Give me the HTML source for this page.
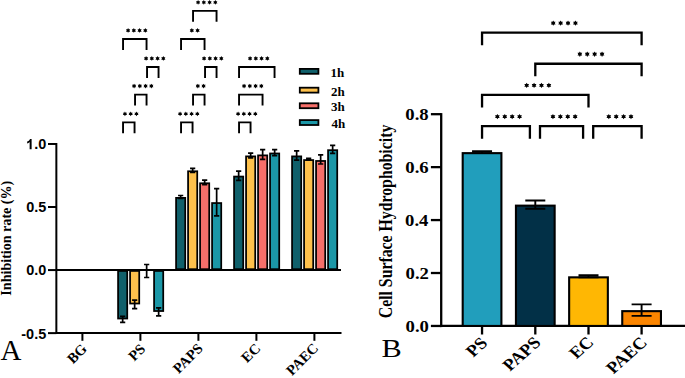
<!DOCTYPE html>
<html><head><meta charset="utf-8"><style>
html,body{margin:0;padding:0;background:#fff;}
body{width:685px;height:378px;overflow:hidden;}
svg{display:block;}
</style></head><body>
<svg width="685" height="378" viewBox="0 0 685 378">
<rect width="685" height="378" fill="#fff"/>
<g stroke="#000" stroke-width="2" fill="none">
<line x1="56.35" y1="143" x2="56.35" y2="334"/>
<line x1="48" y1="143.97" x2="56.35" y2="143.97"/>
<line x1="48" y1="207.02" x2="56.35" y2="207.02"/>
<line x1="48" y1="270.07" x2="56.35" y2="270.07"/>
<line x1="48" y1="333.12" x2="56.35" y2="333.12"/>
<line x1="56.35" y1="270.07" x2="341" y2="270.07"/>
<line x1="56.35" y1="332.9" x2="341.5" y2="332.9"/>
<line x1="82.4" y1="332.9" x2="82.4" y2="340.8"/>
<line x1="140.4" y1="332.9" x2="140.4" y2="340.8"/>
<line x1="198.4" y1="332.9" x2="198.4" y2="340.8"/>
<line x1="256.4" y1="332.9" x2="256.4" y2="340.8"/>
<line x1="314.4" y1="332.9" x2="314.4" y2="340.8"/>
</g>
<g transform="matrix(1.0350 0 0 1.0800 -317.644 -54.755)"><g transform="translate(342 189)"><path d="M759 0H478V1010C380 918 262 850 129 807V1050C200 1073 276 1117 358 1181C441 1245 497 1321 528 1409H759Z" transform="translate(-9.731 0) scale(0.006836 -0.006836)" fill="#000"/><text x="-1.945" font-family="&quot;Liberation Sans&quot;, sans-serif" font-weight="bold" font-size="14" fill="#000">.0</text></g></g>
<g transform="matrix(1.0350 0 0 1.0800 -317.644 8.295)"><text transform="translate(342 189) rotate(0)" font-family="&quot;Liberation Sans&quot;, sans-serif" font-weight="bold" font-size="14" text-anchor="middle" fill="#000">0.5</text></g>
<g transform="matrix(1.0350 0 0 1.0800 -317.644 71.365)"><text transform="translate(342 189) rotate(0)" font-family="&quot;Liberation Sans&quot;, sans-serif" font-weight="bold" font-size="14" text-anchor="middle" fill="#000">0.0</text></g>
<g transform="matrix(1.0350 0 0 1.0800 -320.231 134.395)"><text transform="translate(342 189) rotate(0)" font-family="&quot;Liberation Sans&quot;, sans-serif" font-weight="bold" font-size="14" text-anchor="middle" fill="#000">-0.5</text></g>
<rect x="118.08" y="270.94" width="9.15" height="47.58" fill="#10606b" stroke="#000" stroke-width="1.75"/>
<path d="M122.65 316.40V322.40M120.05 316.40H125.25M120.05 322.40H125.25" stroke="#000" stroke-width="1.7" fill="none"/>
<rect x="130.08" y="270.94" width="9.15" height="32.58" fill="#fec14c" stroke="#000" stroke-width="1.75"/>
<path d="M134.65 300.20V308.60M132.05 300.20H137.25M132.05 308.60H137.25" stroke="#000" stroke-width="1.7" fill="none"/>
<path d="M146.65 264.50V277.50M144.05 264.50H149.25M144.05 277.50H149.25" stroke="#000" stroke-width="1.7" fill="none"/>
<rect x="154.08" y="270.94" width="9.15" height="40.08" fill="#1b97a7" stroke="#000" stroke-width="1.75"/>
<path d="M158.65 307.90V315.90M156.05 307.90H161.25M156.05 315.90H161.25" stroke="#000" stroke-width="1.7" fill="none"/>
<rect x="176.08" y="197.88" width="9.15" height="71.32" fill="#10606b" stroke="#000" stroke-width="1.75"/>
<path d="M180.65 195.50V198.50M178.05 195.50H183.25M178.05 198.50H183.25" stroke="#000" stroke-width="1.7" fill="none"/>
<rect x="188.08" y="171.28" width="9.15" height="97.92" fill="#fec14c" stroke="#000" stroke-width="1.75"/>
<path d="M192.65 168.40V172.40M190.05 168.40H195.25M190.05 172.40H195.25" stroke="#000" stroke-width="1.7" fill="none"/>
<rect x="200.08" y="183.28" width="9.15" height="85.92" fill="#f66f6a" stroke="#000" stroke-width="1.75"/>
<path d="M204.65 180.10V184.70M202.05 180.10H207.25M202.05 184.70H207.25" stroke="#000" stroke-width="1.7" fill="none"/>
<rect x="212.08" y="203.07" width="9.15" height="66.12" fill="#1b97a7" stroke="#000" stroke-width="1.75"/>
<path d="M216.65 188.60V215.80M214.05 188.60H219.25M214.05 215.80H219.25" stroke="#000" stroke-width="1.7" fill="none"/>
<rect x="234.07" y="176.57" width="9.15" height="92.62" fill="#10606b" stroke="#000" stroke-width="1.75"/>
<path d="M238.65 171.10V180.30M236.05 171.10H241.25M236.05 180.30H241.25" stroke="#000" stroke-width="1.7" fill="none"/>
<rect x="246.07" y="156.38" width="9.15" height="112.82" fill="#fec14c" stroke="#000" stroke-width="1.75"/>
<path d="M250.65 153.20V157.80M248.05 153.20H253.25M248.05 157.80H253.25" stroke="#000" stroke-width="1.7" fill="none"/>
<rect x="258.07" y="155.38" width="9.15" height="113.82" fill="#f66f6a" stroke="#000" stroke-width="1.75"/>
<path d="M262.65 149.70V159.30M260.05 149.70H265.25M260.05 159.30H265.25" stroke="#000" stroke-width="1.7" fill="none"/>
<rect x="270.07" y="153.47" width="9.15" height="115.72" fill="#1b97a7" stroke="#000" stroke-width="1.75"/>
<path d="M274.65 149.60V155.60M272.05 149.60H277.25M272.05 155.60H277.25" stroke="#000" stroke-width="1.7" fill="none"/>
<rect x="292.07" y="156.38" width="9.15" height="112.82" fill="#10606b" stroke="#000" stroke-width="1.75"/>
<path d="M296.65 150.90V160.10M294.05 150.90H299.25M294.05 160.10H299.25" stroke="#000" stroke-width="1.7" fill="none"/>
<rect x="304.07" y="160.07" width="9.15" height="109.12" fill="#fec14c" stroke="#000" stroke-width="1.75"/>
<path d="M308.65 158.30V160.10M306.05 158.30H311.25M306.05 160.10H311.25" stroke="#000" stroke-width="1.7" fill="none"/>
<rect x="316.07" y="160.97" width="9.15" height="108.22" fill="#f66f6a" stroke="#000" stroke-width="1.75"/>
<path d="M320.65 154.80V164.00M318.05 154.80H323.25M318.05 164.00H323.25" stroke="#000" stroke-width="1.7" fill="none"/>
<rect x="328.07" y="150.18" width="9.15" height="119.02" fill="#1b97a7" stroke="#000" stroke-width="1.75"/>
<path d="M332.65 145.30V153.30M330.05 145.30H335.25M330.05 153.30H335.25" stroke="#000" stroke-width="1.7" fill="none"/>
<path d="M123.05 49.90V39.00H146.55V49.90" stroke="#000" stroke-width="1.9" fill="none"/>
<path d="M128.08 28.05L128.78 29.24L130.15 29.25L129.48 30.45L130.15 31.65L128.78 31.66L128.08 32.85L127.38 31.66L126.00 31.65L126.68 30.45L126.00 29.25L127.38 29.24ZM133.83 28.05L134.53 29.24L135.90 29.25L135.23 30.45L135.90 31.65L134.53 31.66L133.83 32.85L133.13 31.66L131.75 31.65L132.43 30.45L131.75 29.25L133.13 29.24ZM139.58 28.05L140.28 29.24L141.65 29.25L140.98 30.45L141.65 31.65L140.28 31.66L139.58 32.85L138.88 31.66L137.50 31.65L138.18 30.45L137.50 29.25L138.88 29.24ZM145.33 28.05L146.03 29.24L147.40 29.25L146.73 30.45L147.40 31.65L146.03 31.66L145.33 32.85L144.63 31.66L143.25 31.65L143.93 30.45L143.25 29.25L144.63 29.24Z" fill="#000"/>
<path d="M147.05 77.90V67.00H158.55V77.90" stroke="#000" stroke-width="1.9" fill="none"/>
<path d="M146.08 56.05L146.78 57.24L148.15 57.25L147.48 58.45L148.15 59.65L146.78 59.66L146.08 60.85L145.38 59.66L144.00 59.65L144.68 58.45L144.00 57.25L145.38 57.24ZM151.83 56.05L152.53 57.24L153.90 57.25L153.23 58.45L153.90 59.65L152.53 59.66L151.83 60.85L151.13 59.66L149.75 59.65L150.43 58.45L149.75 57.25L151.13 57.24ZM157.58 56.05L158.28 57.24L159.65 57.25L158.98 58.45L159.65 59.65L158.28 59.66L157.58 60.85L156.88 59.66L155.50 59.65L156.18 58.45L155.50 57.25L156.88 57.24ZM163.33 56.05L164.03 57.24L165.40 57.25L164.73 58.45L165.40 59.65L164.03 59.66L163.33 60.85L162.63 59.66L161.25 59.65L161.93 58.45L161.25 57.25L162.63 57.24Z" fill="#000"/>
<path d="M135.05 105.50V94.60H146.55V105.50" stroke="#000" stroke-width="1.9" fill="none"/>
<path d="M134.08 83.65L134.78 84.84L136.15 84.85L135.48 86.05L136.15 87.25L134.78 87.26L134.08 88.45L133.38 87.26L132.00 87.25L132.68 86.05L132.00 84.85L133.38 84.84ZM139.83 83.65L140.53 84.84L141.90 84.85L141.23 86.05L141.90 87.25L140.53 87.26L139.83 88.45L139.13 87.26L137.75 87.25L138.43 86.05L137.75 84.85L139.13 84.84ZM145.58 83.65L146.28 84.84L147.65 84.85L146.98 86.05L147.65 87.25L146.28 87.26L145.58 88.45L144.88 87.26L143.50 87.25L144.18 86.05L143.50 84.85L144.88 84.84ZM151.33 83.65L152.03 84.84L153.40 84.85L152.73 86.05L153.40 87.25L152.03 87.26L151.33 88.45L150.63 87.26L149.25 87.25L149.93 86.05L149.25 84.85L150.63 84.84Z" fill="#000"/>
<path d="M123.05 133.30V122.40H134.55V133.30" stroke="#000" stroke-width="1.9" fill="none"/>
<path d="M124.95 111.45L125.65 112.64L127.03 112.65L126.35 113.85L127.03 115.05L125.65 115.06L124.95 116.25L124.25 115.06L122.87 115.05L123.55 113.85L122.87 112.65L124.25 112.64ZM130.70 111.45L131.40 112.64L132.78 112.65L132.10 113.85L132.78 115.05L131.40 115.06L130.70 116.25L130.00 115.06L128.62 115.05L129.30 113.85L128.62 112.65L130.00 112.64ZM136.45 111.45L137.15 112.64L138.53 112.65L137.85 113.85L138.53 115.05L137.15 115.06L136.45 116.25L135.75 115.06L134.37 115.05L135.05 113.85L134.37 112.65L135.75 112.64Z" fill="#000"/>
<path d="M193.05 21.80V10.90H216.55V21.80" stroke="#000" stroke-width="1.9" fill="none"/>
<path d="M198.08 -0.05L198.78 1.14L200.15 1.15L199.48 2.35L200.15 3.55L198.78 3.56L198.08 4.75L197.38 3.56L196.00 3.55L196.68 2.35L196.00 1.15L197.38 1.14ZM203.83 -0.05L204.53 1.14L205.90 1.15L205.23 2.35L205.90 3.55L204.53 3.56L203.83 4.75L203.13 3.56L201.75 3.55L202.43 2.35L201.75 1.15L203.13 1.14ZM209.58 -0.05L210.28 1.14L211.65 1.15L210.98 2.35L211.65 3.55L210.28 3.56L209.58 4.75L208.88 3.56L207.50 3.55L208.18 2.35L207.50 1.15L208.88 1.14ZM215.33 -0.05L216.03 1.14L217.40 1.15L216.73 2.35L217.40 3.55L216.03 3.56L215.33 4.75L214.63 3.56L213.25 3.55L213.93 2.35L213.25 1.15L214.63 1.14Z" fill="#000"/>
<path d="M181.05 49.90V39.00H204.55V49.90" stroke="#000" stroke-width="1.9" fill="none"/>
<path d="M191.83 28.05L192.53 29.24L193.90 29.25L193.23 30.45L193.90 31.65L192.53 31.66L191.83 32.85L191.13 31.66L189.75 31.65L190.43 30.45L189.75 29.25L191.13 29.24ZM197.58 28.05L198.28 29.24L199.65 29.25L198.98 30.45L199.65 31.65L198.28 31.66L197.58 32.85L196.88 31.66L195.50 31.65L196.18 30.45L195.50 29.25L196.88 29.24Z" fill="#000"/>
<path d="M205.05 77.90V67.00H216.55V77.90" stroke="#000" stroke-width="1.9" fill="none"/>
<path d="M204.08 56.05L204.78 57.24L206.15 57.25L205.48 58.45L206.15 59.65L204.78 59.66L204.08 60.85L203.38 59.66L202.00 59.65L202.68 58.45L202.00 57.25L203.38 57.24ZM209.83 56.05L210.53 57.24L211.90 57.25L211.23 58.45L211.90 59.65L210.53 59.66L209.83 60.85L209.13 59.66L207.75 59.65L208.43 58.45L207.75 57.25L209.13 57.24ZM215.58 56.05L216.28 57.24L217.65 57.25L216.98 58.45L217.65 59.65L216.28 59.66L215.58 60.85L214.88 59.66L213.50 59.65L214.18 58.45L213.50 57.25L214.88 57.24ZM221.33 56.05L222.03 57.24L223.40 57.25L222.73 58.45L223.40 59.65L222.03 59.66L221.33 60.85L220.63 59.66L219.25 59.65L219.93 58.45L219.25 57.25L220.63 57.24Z" fill="#000"/>
<path d="M193.05 105.50V94.60H204.55V105.50" stroke="#000" stroke-width="1.9" fill="none"/>
<path d="M197.83 83.65L198.53 84.84L199.90 84.85L199.23 86.05L199.90 87.25L198.53 87.26L197.83 88.45L197.13 87.26L195.75 87.25L196.43 86.05L195.75 84.85L197.13 84.84ZM203.58 83.65L204.28 84.84L205.65 84.85L204.98 86.05L205.65 87.25L204.28 87.26L203.58 88.45L202.88 87.26L201.50 87.25L202.18 86.05L201.50 84.85L202.88 84.84Z" fill="#000"/>
<path d="M181.05 133.30V122.40H192.55V133.30" stroke="#000" stroke-width="1.9" fill="none"/>
<path d="M180.08 111.45L180.78 112.64L182.15 112.65L181.48 113.85L182.15 115.05L180.78 115.06L180.08 116.25L179.38 115.06L178.00 115.05L178.68 113.85L178.00 112.65L179.38 112.64ZM185.83 111.45L186.53 112.64L187.90 112.65L187.23 113.85L187.90 115.05L186.53 115.06L185.83 116.25L185.13 115.06L183.75 115.05L184.43 113.85L183.75 112.65L185.13 112.64ZM191.58 111.45L192.28 112.64L193.65 112.65L192.98 113.85L193.65 115.05L192.28 115.06L191.58 116.25L190.88 115.06L189.50 115.05L190.18 113.85L189.50 112.65L190.88 112.64ZM197.33 111.45L198.03 112.64L199.40 112.65L198.73 113.85L199.40 115.05L198.03 115.06L197.33 116.25L196.63 115.06L195.25 115.05L195.93 113.85L195.25 112.65L196.63 112.64Z" fill="#000"/>
<path d="M239.05 77.90V67.00H274.55V77.90" stroke="#000" stroke-width="1.9" fill="none"/>
<path d="M250.07 56.05L250.77 57.24L252.15 57.25L251.47 58.45L252.15 59.65L250.77 59.66L250.07 60.85L249.37 59.66L248.00 59.65L248.67 58.45L248.00 57.25L249.37 57.24ZM255.82 56.05L256.52 57.24L257.90 57.25L257.22 58.45L257.90 59.65L256.52 59.66L255.82 60.85L255.12 59.66L253.75 59.65L254.42 58.45L253.75 57.25L255.12 57.24ZM261.57 56.05L262.27 57.24L263.65 57.25L262.97 58.45L263.65 59.65L262.27 59.66L261.57 60.85L260.87 59.66L259.50 59.65L260.17 58.45L259.50 57.25L260.87 57.24ZM267.32 56.05L268.02 57.24L269.40 57.25L268.72 58.45L269.40 59.65L268.02 59.66L267.32 60.85L266.62 59.66L265.25 59.65L265.92 58.45L265.25 57.25L266.62 57.24Z" fill="#000"/>
<path d="M239.05 105.50V94.60H262.55V105.50" stroke="#000" stroke-width="1.9" fill="none"/>
<path d="M244.07 83.65L244.77 84.84L246.15 84.85L245.47 86.05L246.15 87.25L244.77 87.26L244.07 88.45L243.37 87.26L242.00 87.25L242.67 86.05L242.00 84.85L243.37 84.84ZM249.82 83.65L250.52 84.84L251.90 84.85L251.22 86.05L251.90 87.25L250.52 87.26L249.82 88.45L249.12 87.26L247.75 87.25L248.42 86.05L247.75 84.85L249.12 84.84ZM255.57 83.65L256.27 84.84L257.65 84.85L256.97 86.05L257.65 87.25L256.27 87.26L255.57 88.45L254.87 87.26L253.50 87.25L254.17 86.05L253.50 84.85L254.87 84.84ZM261.32 83.65L262.02 84.84L263.40 84.85L262.72 86.05L263.40 87.25L262.02 87.26L261.32 88.45L260.62 87.26L259.25 87.25L259.92 86.05L259.25 84.85L260.62 84.84Z" fill="#000"/>
<path d="M239.05 133.30V122.40H250.55V133.30" stroke="#000" stroke-width="1.9" fill="none"/>
<path d="M238.07 111.45L238.77 112.64L240.15 112.65L239.47 113.85L240.15 115.05L238.77 115.06L238.07 116.25L237.38 115.06L236.00 115.05L236.67 113.85L236.00 112.65L237.38 112.64ZM243.82 111.45L244.52 112.64L245.90 112.65L245.22 113.85L245.90 115.05L244.52 115.06L243.82 116.25L243.12 115.06L241.75 115.05L242.42 113.85L241.75 112.65L243.12 112.64ZM249.57 111.45L250.27 112.64L251.65 112.65L250.97 113.85L251.65 115.05L250.27 115.06L249.57 116.25L248.88 115.06L247.50 115.05L248.17 113.85L247.50 112.65L248.88 112.64ZM255.32 111.45L256.02 112.64L257.40 112.65L256.72 113.85L257.40 115.05L256.02 115.06L255.32 116.25L254.62 115.06L253.25 115.05L253.92 113.85L253.25 112.65L254.62 112.64Z" fill="#000"/>
<rect x="299.79999999999995" y="68.9" width="18.599999999999998" height="4.9" fill="#10606b" stroke="#000" stroke-width="1.8"/>
<g transform="matrix(1.0000 0 0 1.0000 -4.650 -112.200)"><text transform="translate(342 189) rotate(0)" font-family="&quot;Liberation Serif&quot;, serif" font-weight="bold" font-size="13" text-anchor="middle" fill="#000">1h</text></g>
<rect x="299.79999999999995" y="87.7" width="18.599999999999998" height="4.9" fill="#fec14c" stroke="#000" stroke-width="1.8"/>
<g transform="matrix(1.0000 0 0 1.0000 -4.150 -93.400)"><text transform="translate(342 189) rotate(0)" font-family="&quot;Liberation Serif&quot;, serif" font-weight="bold" font-size="13" text-anchor="middle" fill="#000">2h</text></g>
<rect x="299.79999999999995" y="103.30000000000001" width="18.599999999999998" height="4.9" fill="#f66f6a" stroke="#000" stroke-width="1.8"/>
<g transform="matrix(1.0000 0 0 1.0000 -4.150 -77.800)"><text transform="translate(342 189) rotate(0)" font-family="&quot;Liberation Serif&quot;, serif" font-weight="bold" font-size="13" text-anchor="middle" fill="#000">3h</text></g>
<rect x="299.79999999999995" y="120.10000000000001" width="18.599999999999998" height="4.9" fill="#1b97a7" stroke="#000" stroke-width="1.8"/>
<g transform="matrix(1.0000 0 0 1.0000 -3.650 -61.000)"><text transform="translate(342 189) rotate(0)" font-family="&quot;Liberation Serif&quot;, serif" font-weight="bold" font-size="13" text-anchor="middle" fill="#000">4h</text></g>
<g transform="matrix(1.0275 0 0 1.0066 -340.171 47.923)"><text transform="translate(342 189) rotate(-90)" font-family="&quot;Liberation Serif&quot;, serif" font-weight="bold" font-size="14" text-anchor="middle" fill="#000">Inhibition rate (%)</text></g>
<g transform="matrix(1.0000 0 0 1.0211 -331.150 167.421)"><text transform="translate(342 189) rotate(0)" font-family="&quot;Liberation Serif&quot;, serif" font-weight="normal" font-size="29" text-anchor="middle" fill="#000">A</text></g>
<g transform="matrix(1.0000 0 0 1.0000 -261.675 168.100)"><text transform="translate(342 189) rotate(-45)" font-family="&quot;Liberation Serif&quot;, serif" font-weight="bold" font-size="14.5" text-anchor="middle" fill="#000">BG</text></g>
<g transform="matrix(1.0000 0 0 1.0000 -201.700 166.775)"><text transform="translate(342 189) rotate(-45)" font-family="&quot;Liberation Serif&quot;, serif" font-weight="bold" font-size="14.5" text-anchor="middle" fill="#000">PS</text></g>
<g transform="matrix(1.0000 0 0 1.0000 -150.800 172.750)"><text transform="translate(342 189) rotate(-45)" font-family="&quot;Liberation Serif&quot;, serif" font-weight="bold" font-size="14.5" text-anchor="middle" fill="#000">PAPS</text></g>
<g transform="matrix(1.0000 0 0 1.0000 -87.800 167.425)"><text transform="translate(342 189) rotate(-45)" font-family="&quot;Liberation Serif&quot;, serif" font-weight="bold" font-size="14.5" text-anchor="middle" fill="#000">EC</text></g>
<g transform="matrix(1.0000 0 0 1.0000 -36.300 173.575)"><text transform="translate(342 189) rotate(-45)" font-family="&quot;Liberation Serif&quot;, serif" font-weight="bold" font-size="14.5" text-anchor="middle" fill="#000">PAEC</text></g>
<g stroke="#000" stroke-width="2.3" fill="none">
<line x1="441.2" y1="113.1" x2="441.2" y2="327.1"/>
<line x1="430.9" y1="325.95" x2="441.2" y2="325.95"/>
<line x1="430.9" y1="273.01" x2="441.2" y2="273.01"/>
<line x1="430.9" y1="220.07" x2="441.2" y2="220.07"/>
<line x1="430.9" y1="167.13" x2="441.2" y2="167.13"/>
<line x1="430.9" y1="114.19" x2="441.2" y2="114.19"/>
<line x1="441.2" y1="325.95" x2="685" y2="325.95"/>
<line x1="482.05" y1="325.95" x2="482.05" y2="334.5"/>
<line x1="535.3" y1="325.95" x2="535.3" y2="334.5"/>
<line x1="588.5" y1="325.95" x2="588.5" y2="334.5"/>
<line x1="641.6" y1="325.95" x2="641.6" y2="334.5"/>
</g>
<g transform="matrix(1.1200 0 0 1.0000 34.240 143.125)"><text transform="translate(342 189) rotate(0)" font-family="&quot;Liberation Serif&quot;, serif" font-weight="bold" font-size="16.7" text-anchor="middle" fill="#000">0.0</text></g>
<g transform="matrix(1.1200 0 0 1.0000 34.240 90.185)"><text transform="translate(342 189) rotate(0)" font-family="&quot;Liberation Serif&quot;, serif" font-weight="bold" font-size="16.7" text-anchor="middle" fill="#000">0.2</text></g>
<g transform="matrix(1.1200 0 0 1.0000 33.680 37.245)"><text transform="translate(342 189) rotate(0)" font-family="&quot;Liberation Serif&quot;, serif" font-weight="bold" font-size="16.7" text-anchor="middle" fill="#000">0.4</text></g>
<g transform="matrix(1.1200 0 0 1.0000 33.960 -15.695)"><text transform="translate(342 189) rotate(0)" font-family="&quot;Liberation Serif&quot;, serif" font-weight="bold" font-size="16.7" text-anchor="middle" fill="#000">0.6</text></g>
<g transform="matrix(1.1200 0 0 1.0000 33.960 -68.635)"><text transform="translate(342 189) rotate(0)" font-family="&quot;Liberation Serif&quot;, serif" font-weight="bold" font-size="16.7" text-anchor="middle" fill="#000">0.8</text></g>
<rect x="462.70" y="153.15" width="38.70" height="172.80" fill="#219ebc" stroke="#000" stroke-width="2.1"/>
<path d="M482.05 151.10V153.10M472.05 151.10H492.05M472.05 153.10H492.05" stroke="#000" stroke-width="1.9" fill="none"/>
<rect x="515.95" y="205.65" width="38.70" height="120.30" fill="#023047" stroke="#000" stroke-width="2.1"/>
<path d="M535.3 200.50V208.70M525.3 200.50H545.3M525.3 208.70H545.3" stroke="#000" stroke-width="1.9" fill="none"/>
<rect x="569.15" y="277.35" width="38.70" height="48.60" fill="#ffb703" stroke="#000" stroke-width="2.1"/>
<path d="M588.5 275.20V277.40M578.5 275.20H598.5M578.5 277.40H598.5" stroke="#000" stroke-width="1.9" fill="none"/>
<rect x="622.25" y="311.15" width="38.70" height="14.80" fill="#fb8500" stroke="#000" stroke-width="2.1"/>
<path d="M641.6 304.35V315.85M631.6 304.35H651.6M631.6 315.85H651.6" stroke="#000" stroke-width="1.9" fill="none"/>
<path d="M482.05 45.15V32.65H641.60V45.15" stroke="#000" stroke-width="2.3" fill="none"/>
<path d="M553.23 20.40L554.02 21.71L555.56 21.75L554.83 23.10L555.56 24.45L554.02 24.49L553.23 25.80L552.43 24.49L550.89 24.45L551.62 23.10L550.89 21.75L552.43 21.71ZM560.62 20.40L561.42 21.71L562.96 21.75L562.23 23.10L562.96 24.45L561.42 24.49L560.62 25.80L559.83 24.49L558.29 24.45L559.02 23.10L558.29 21.75L559.83 21.71ZM568.02 20.40L568.82 21.71L570.36 21.75L569.62 23.10L570.36 24.45L568.82 24.49L568.02 25.80L567.23 24.49L565.69 24.45L566.42 23.10L565.69 21.75L567.23 21.71ZM575.43 20.40L576.23 21.71L577.76 21.75L577.03 23.10L577.76 24.45L576.23 24.49L575.43 25.80L574.63 24.49L573.09 24.45L573.83 23.10L573.09 21.75L574.63 21.71Z" fill="#000"/>
<path d="M535.30 76.25V63.75H641.60V76.25" stroke="#000" stroke-width="2.3" fill="none"/>
<path d="M579.85 51.50L580.65 52.81L582.19 52.85L581.45 54.20L582.19 55.55L580.65 55.59L579.85 56.90L579.05 55.59L577.51 55.55L578.25 54.20L577.51 52.85L579.05 52.81ZM587.25 51.50L588.05 52.81L589.59 52.85L588.85 54.20L589.59 55.55L588.05 55.59L587.25 56.90L586.45 55.59L584.91 55.55L585.65 54.20L584.91 52.85L586.45 52.81ZM594.65 51.50L595.45 52.81L596.99 52.85L596.25 54.20L596.99 55.55L595.45 55.59L594.65 56.90L593.85 55.59L592.31 55.55L593.05 54.20L592.31 52.85L593.85 52.81ZM602.05 51.50L602.85 52.81L604.39 52.85L603.65 54.20L604.39 55.55L602.85 55.59L602.05 56.90L601.25 55.59L599.71 55.55L600.45 54.20L599.71 52.85L601.25 52.81Z" fill="#000"/>
<path d="M482.05 107.45V94.95H588.50V107.45" stroke="#000" stroke-width="2.3" fill="none"/>
<path d="M526.67 82.70L527.47 84.01L529.01 84.05L528.27 85.40L529.01 86.75L527.47 86.79L526.67 88.10L525.88 86.79L524.34 86.75L525.07 85.40L524.34 84.05L525.88 84.01ZM534.07 82.70L534.87 84.01L536.41 84.05L535.67 85.40L536.41 86.75L534.87 86.79L534.07 88.10L533.27 86.79L531.74 86.75L532.47 85.40L531.74 84.05L533.27 84.01ZM541.47 82.70L542.27 84.01L543.81 84.05L543.07 85.40L543.81 86.75L542.27 86.79L541.47 88.10L540.67 86.79L539.14 86.75L539.87 85.40L539.14 84.05L540.67 84.01ZM548.88 82.70L549.67 84.01L551.21 84.05L550.48 85.40L551.21 86.75L549.67 86.79L548.88 88.10L548.08 86.79L546.54 86.75L547.27 85.40L546.54 84.05L548.08 84.01Z" fill="#000"/>
<path d="M482.05 138.70V126.20H529.90V138.70" stroke="#000" stroke-width="2.3" fill="none"/>
<path d="M497.38 113.95L498.18 115.26L499.71 115.30L498.98 116.65L499.71 118.00L498.18 118.04L497.38 119.35L496.57 118.04L495.04 118.00L495.77 116.65L495.04 115.30L496.57 115.26ZM504.77 113.95L505.57 115.26L507.11 115.30L506.38 116.65L507.11 118.00L505.57 118.04L504.77 119.35L503.97 118.04L502.44 118.00L503.17 116.65L502.44 115.30L503.97 115.26ZM512.17 113.95L512.97 115.26L514.51 115.30L513.77 116.65L514.51 118.00L512.97 118.04L512.17 119.35L511.37 118.04L509.84 118.00L510.57 116.65L509.84 115.30L511.37 115.26ZM519.58 113.95L520.38 115.26L521.91 115.30L521.18 116.65L521.91 118.00L520.38 118.04L519.58 119.35L518.78 118.04L517.24 118.00L517.98 116.65L517.24 115.30L518.78 115.26Z" fill="#000"/>
<path d="M540.00 138.70V126.20H583.10V138.70" stroke="#000" stroke-width="2.3" fill="none"/>
<path d="M552.95 113.95L553.75 115.26L555.29 115.30L554.55 116.65L555.29 118.00L553.75 118.04L552.95 119.35L552.15 118.04L550.61 118.00L551.35 116.65L550.61 115.30L552.15 115.26ZM560.35 113.95L561.15 115.26L562.69 115.30L561.95 116.65L562.69 118.00L561.15 118.04L560.35 119.35L559.55 118.04L558.01 118.00L558.75 116.65L558.01 115.30L559.55 115.26ZM567.75 113.95L568.55 115.26L570.09 115.30L569.35 116.65L570.09 118.00L568.55 118.04L567.75 119.35L566.95 118.04L565.41 118.00L566.15 116.65L565.41 115.30L566.95 115.26ZM575.15 113.95L575.95 115.26L577.49 115.30L576.75 116.65L577.49 118.00L575.95 118.04L575.15 119.35L574.35 118.04L572.81 118.00L573.55 116.65L572.81 115.30L574.35 115.26Z" fill="#000"/>
<path d="M593.20 138.70V126.20H641.60V138.70" stroke="#000" stroke-width="2.3" fill="none"/>
<path d="M608.80 113.95L609.60 115.26L611.14 115.30L610.40 116.65L611.14 118.00L609.60 118.04L608.80 119.35L608.00 118.04L606.46 118.00L607.20 116.65L606.46 115.30L608.00 115.26ZM616.20 113.95L617.00 115.26L618.54 115.30L617.80 116.65L618.54 118.00L617.00 118.04L616.20 119.35L615.40 118.04L613.86 118.00L614.60 116.65L613.86 115.30L615.40 115.26ZM623.60 113.95L624.40 115.26L625.94 115.30L625.20 116.65L625.94 118.00L624.40 118.04L623.60 119.35L622.80 118.04L621.26 118.00L622.00 116.65L621.26 115.30L622.80 115.26ZM631.00 113.95L631.80 115.26L633.34 115.30L632.60 116.65L633.34 118.00L631.80 118.04L631.00 119.35L630.20 118.04L628.66 118.00L629.40 116.65L628.66 115.30L630.20 115.26Z" fill="#000"/>
<g transform="matrix(1.0730 0 0 0.9298 25.305 45.767)"><text transform="translate(342 189) rotate(-90)" font-family="&quot;Liberation Serif&quot;, serif" font-weight="bold" font-size="17" text-anchor="middle" fill="#000">Cell Surface Hydrophobicity</text></g>
<g transform="matrix(1.2136 0 0 1.0154 -23.436 165.392)"><text transform="translate(342 189) rotate(0)" font-family="&quot;Liberation Serif&quot;, serif" font-weight="normal" font-size="25" text-anchor="middle" fill="#000">B</text></g>
<g transform="matrix(1.1600 0 0 1.0300 84.105 156.228)"><text transform="translate(342 189) rotate(-45)" font-family="&quot;Liberation Serif&quot;, serif" font-weight="bold" font-size="16" text-anchor="middle" fill="#000">PS</text></g>
<g transform="matrix(1.1600 0 0 1.0300 129.200 163.028)"><text transform="translate(342 189) rotate(-45)" font-family="&quot;Liberation Serif&quot;, serif" font-weight="bold" font-size="16" text-anchor="middle" fill="#000">PAPS</text></g>
<g transform="matrix(1.1600 0 0 1.0300 189.010 156.799)"><text transform="translate(342 189) rotate(-45)" font-family="&quot;Liberation Serif&quot;, serif" font-weight="bold" font-size="16" text-anchor="middle" fill="#000">EC</text></g>
<g transform="matrix(1.1600 0 0 1.0300 234.160 164.349)"><text transform="translate(342 189) rotate(-45)" font-family="&quot;Liberation Serif&quot;, serif" font-weight="bold" font-size="16" text-anchor="middle" fill="#000">PAEC</text></g>
</svg></body></html>
